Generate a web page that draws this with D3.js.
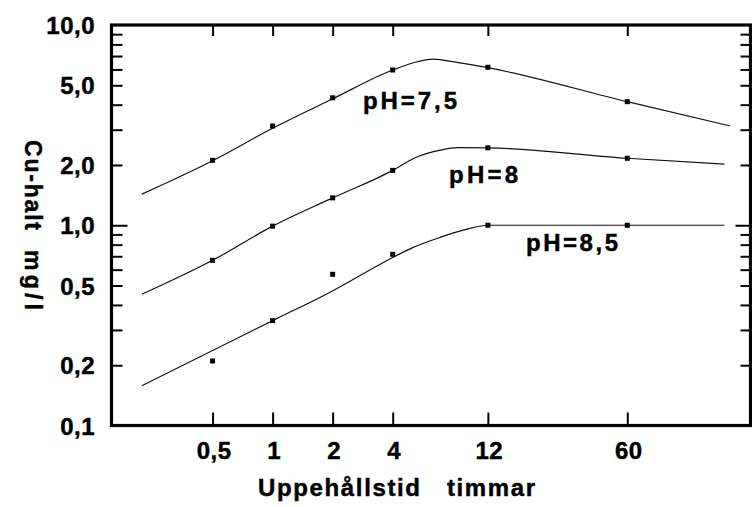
<!DOCTYPE html>
<html><head><meta charset="utf-8">
<script src="https://cdn.jsdelivr.net/npm/d3@7"></script>
<style>
body{margin:0;background:#fff}
svg{display:block;background:#fff}
text{font-family:"Liberation Sans",Arial,sans-serif;font-weight:bold;fill:#000;stroke:#000;stroke-width:0.45px}
</style>
</head><body>
<svg id="c" width="752" height="507"></svg>
<script>
// ---- data ----
const hours = [0.5, 1, 2, 4, 12, 60];
const hourLabels = ["0,5", "1", "2", "4", "12", "60"];
const yTickValues = [0.1, 0.2, 0.5, 1, 2, 5, 10];
const yTickLabels = ["0,1", "0,2", "0,5", "1,0", "2,0", "5,0", "10,0"];

// measured points (squares)
const pts75 = [2.11, 3.13, 4.33, 5.96, 6.15, 4.14];
const pts8  = [0.668, 0.99, 1.37, 1.88, 2.435, 2.16];
const pts85 = [0.21, 0.334, 0.569, 0.716, 1.0, 1.0];

// fitted curves (hours, Cu mg/l)
const curve75X = [0.221, 0.5, 1, 2, 4, 5.09, 6.4, 8.4, 12, 60, 197];
const curve75Y = [1.43, 2.1, 3.05, 4.28, 5.96, 6.48, 6.76, 6.5, 6.12, 4.14, 3.13];
const curve8X  = [0.221, 0.5, 1, 2, 4, 5.09, 6.92, 8.5, 12, 60, 184];
const curve8Y  = [0.452, 0.668, 0.99, 1.37, 1.88, 2.156, 2.37, 2.44, 2.435, 2.16, 2.02];
const curve85X = [0.221, 1, 2, 4, 5.07, 6.92, 9.03, 12, 184];
const curve85Y = [0.158, 0.334, 0.47, 0.69, 0.775, 0.87, 0.945, 1.0, 1.0];

const seriesLabels = ["pH=7,5", "pH=8", "pH=8,5"];
const xTitle1 = "Uppehållstid", xTitle2 = "timmar";
const yTitle1 = "Cu-halt", yTitle2 = "mg/l";

// ---- layout ----
const L = 111.5, R = 750.5, T = 25, B = 425.5;
const svg = d3.select("#c");
const x = d3.scaleLog().domain([0.1557, 248.8]).range([L, R]);
const y = d3.scaleLog().domain([0.1, 10]).range([B, T]);

const minorY = y.ticks().filter(v => v > 0.1 && v < 10);
const isDecade = v => Math.abs(Math.log10(v) - Math.round(Math.log10(v))) < 1e-9;

// left axis ticks (inward)
const gl = svg.append("g").attr("transform", `translate(${L},0)`)
  .call(d3.axisLeft(y).tickValues(minorY).tickSizeOuter(0).tickSizeInner(-10).tickFormat(""));
gl.select(".domain").remove();
gl.selectAll(".tick line").attr("stroke", "#000").attr("stroke-width", 2)
  .attr("x2", d => isDecade(d) ? 16 : 11);

// right axis ticks (inward)
const gr = svg.append("g").attr("transform", `translate(${R},0)`)
  .call(d3.axisRight(y).tickValues(minorY).tickSizeOuter(0).tickSizeInner(-10).tickFormat(""));
gr.select(".domain").remove();
gr.selectAll(".tick line").attr("stroke", "#000").attr("stroke-width", 2)
  .attr("x2", d => isDecade(d) ? -15 : -10);

// top ticks (down)
const gt = svg.append("g").attr("transform", `translate(0,${T})`)
  .call(d3.axisTop(x).tickValues(hours).tickSizeOuter(0).tickSizeInner(-11).tickFormat(""));
gt.select(".domain").remove();
gt.selectAll(".tick line").attr("stroke", "#000").attr("stroke-width", 2);

// bottom ticks (up)
const gb = svg.append("g").attr("transform", `translate(0,${B})`)
  .call(d3.axisBottom(x).tickValues(hours).tickSizeOuter(0).tickSizeInner(-13).tickFormat(""));
gb.select(".domain").remove();
gb.selectAll(".tick line").attr("stroke", "#000").attr("stroke-width", 2);

// frame
svg.append("rect").attr("x", L).attr("y", T).attr("width", R - L).attr("height", B - T)
  .attr("fill", "none").attr("stroke", "#000").attr("stroke-width", 3.2);

// y tick labels
svg.append("g").selectAll("text").data(yTickValues).join("text")
  .attr("x", 95).attr("y", (d) => y(d) + 9)
  .attr("text-anchor", "end").attr("font-size", 24).attr("letter-spacing", 0.5)
  .text((d, i) => yTickLabels[i]);

// x tick labels
svg.append("g").selectAll("text").data(hours).join("text")
  .attr("x", d => x(d) + 1.5).attr("y", 459)
  .attr("text-anchor", "middle").attr("font-size", 24).attr("letter-spacing", 0.5)
  .text((d, i) => hourLabels[i]);

// axis titles
svg.append("text").attr("x", 258).attr("y", 496).attr("font-size", 24)
  .attr("textLength", 162).attr("lengthAdjust", "spacing").text(xTitle1);
svg.append("text").attr("x", 447).attr("y", 496).attr("font-size", 24)
  .attr("textLength", 88).attr("lengthAdjust", "spacing").text(xTitle2);
svg.append("text").attr("transform", "translate(25,140) rotate(90)").attr("font-size", 23)
  .attr("textLength", 90).attr("lengthAdjust", "spacing").text(yTitle1);
svg.append("text").attr("transform", "translate(25,250) rotate(90)").attr("font-size", 23)
  .attr("textLength", 60).attr("lengthAdjust", "spacing").text(yTitle2);

// curves
const line = d3.line().x(d => x(d[0])).y(d => y(d[1])).curve(d3.curveMonotoneX);
const curves = [[curve75X, curve75Y], [curve8X, curve8Y], [curve85X, curve85Y]];
svg.append("g").selectAll("path").data(curves).join("path")
  .attr("d", c => line(c[0].map((v, i) => [v, c[1][i]])))
  .attr("fill", "none").attr("stroke", "#111").attr("stroke-width", 1.2);

// points
const allPts = [pts75, pts8, pts85];
allPts.forEach(series => {
  svg.append("g").selectAll("rect").data(series).join("rect")
    .attr("x", (d, i) => x(hours[i]) - 2.5).attr("y", d => y(d) - 2.5)
    .attr("width", 5).attr("height", 5).attr("fill", "#000");
});

// series labels
const labelPos = [[363, 108.5, 94], [449, 183, 69], [526, 251, 92]];
svg.append("g").selectAll("text").data(seriesLabels).join("text")
  .attr("x", (d, i) => labelPos[i][0]).attr("y", (d, i) => labelPos[i][1])
  .attr("font-size", 24).attr("textLength", (d, i) => labelPos[i][2]).attr("lengthAdjust", "spacing")
  .text(d => d);
</script>
</body></html>
